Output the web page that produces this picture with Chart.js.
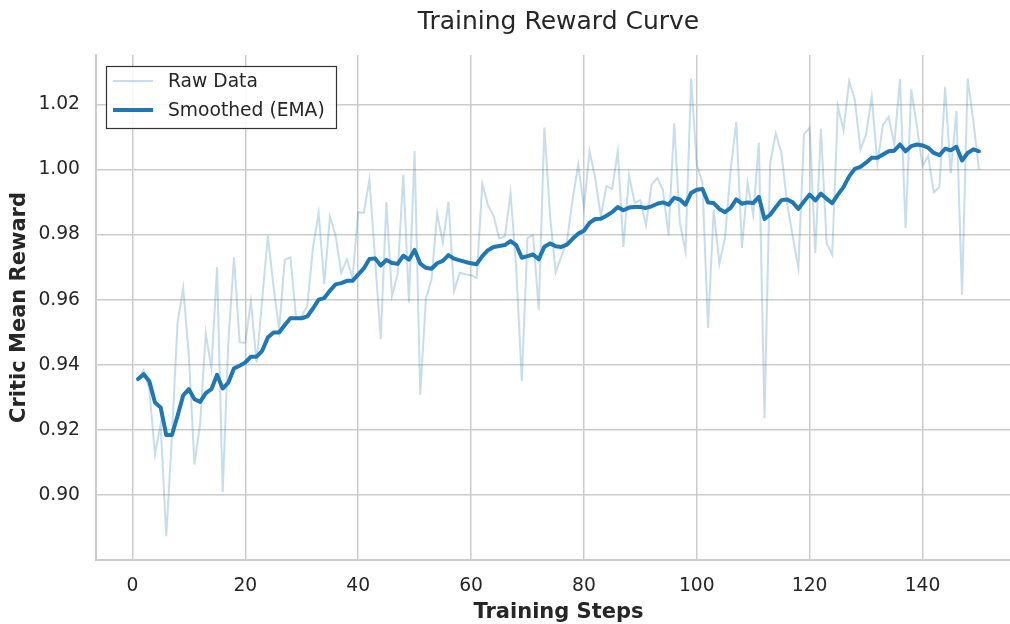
<!DOCTYPE html>
<html>
<head>
<meta charset="utf-8">
<script src="https://cdn.jsdelivr.net/npm/chart.js@4.4.1/dist/chart.umd.min.js"></script>
<style>
  html, body { margin: 0; padding: 0; background: #fff; overflow: hidden; }
  #chart { display: block; }
</style>
</head>
<body>
<canvas id="chart" width="1021" height="624"></canvas>
<script>
// training steps 1..150
const steps = Array.from({ length: 150 }, (_, i) => i + 1);

// raw critic reward
const rawReward = [
  0.9355, 0.9384, 0.9325, 0.9125, 0.9217, 0.8873, 0.918, 0.953, 0.9636, 0.9428,
  0.9094, 0.922, 0.9497, 0.9389, 0.970, 0.9009, 0.9469, 0.973, 0.9469, 0.9467,
  0.9595, 0.9407, 0.960, 0.9797, 0.964, 0.9508, 0.9723, 0.973, 0.9545, 0.955,
  0.9581, 0.9761, 0.9866, 0.9648, 0.9856, 0.9797, 0.9682, 0.9725, 0.9666, 0.9869,
  0.9867, 0.9969, 0.9725, 0.9479, 0.9899, 0.9612, 0.9679, 0.9984, 0.9592, 1.0057,
  0.9308, 0.9603, 0.9662, 0.9865, 0.9775, 0.9901, 0.9627, 0.9683, 0.9678, 0.9675,
  0.9666, 0.9957, 0.989, 0.9857, 0.9788, 0.9794, 0.9927, 0.970, 0.935, 0.979,
  0.9798, 0.9568, 1.0129, 0.986, 0.9684, 0.9733, 0.978, 0.9908, 1.0015, 0.9882,
  1.0056, 0.9974, 0.9856, 0.9949, 0.994, 1.0056, 0.9762, 0.9982, 0.9897, 0.9906,
  0.9828, 0.9954, 0.9974, 0.9938, 0.9798, 1.0142, 0.9836, 0.9749, 1.028, 1.0015,
  0.9959, 0.9513, 0.9877, 0.971, 0.979, 1.0, 1.0146, 0.9759, 0.9959, 0.9861,
  1.0082, 0.9236, 1.002, 1.0111, 1.0051, 0.9897, 0.9795, 0.9697, 1.0108, 1.0128,
  0.9743, 1.0125, 0.9774, 0.9738, 1.0195, 1.0121, 1.0272, 1.0215, 1.0061, 1.0108,
  1.0224, 1.002, 1.0138, 1.0162, 1.0077, 1.0279, 0.982, 1.0246, 1.0133, 1.0012,
  1.0041, 0.993, 0.9947, 1.0254, 0.9988, 1.018, 0.9615, 1.028, 1.0149, 1.0
];

// smoothed (EMA) curve, also
const emaReward = [
  0.9356, 0.9371, 0.9349, 0.9284, 0.9269, 0.9184, 0.9184, 0.9243, 0.9306, 0.9325,
  0.9294, 0.9286, 0.9313, 0.9325, 0.9369, 0.9327, 0.9345, 0.9389, 0.9397, 0.9407,
  0.9425, 0.9425, 0.9443, 0.9484, 0.9499, 0.9499, 0.9522, 0.9543, 0.9543, 0.9543,
  0.9549, 0.9573, 0.960, 0.9605, 0.9628, 0.9647, 0.9651, 0.9658, 0.9658, 0.9677,
  0.9696, 0.9725, 0.9727, 0.9705, 0.9722, 0.9713, 0.971, 0.9735, 0.9723, 0.9753,
  0.9711, 0.9698, 0.9695, 0.9712, 0.9719, 0.9737, 0.9726, 0.9721, 0.9716, 0.9712,
  0.9709, 0.9734, 0.9752, 0.9762, 0.9765, 0.9768, 0.978, 0.9768, 0.9729, 0.9734,
  0.9739, 0.9724, 0.9763, 0.9773, 0.9764, 0.9762, 0.9769, 0.9787, 0.9803, 0.9812,
  0.9836, 0.9848, 0.9849, 0.9858, 0.9869, 0.9885, 0.9875, 0.9883, 0.9885, 0.9885,
  0.9882, 0.9887, 0.9895, 0.9899, 0.9892, 0.9913, 0.9908, 0.9892, 0.9928, 0.9938,
  0.994, 0.9899, 0.9897, 0.9879, 0.9869, 0.9882, 0.9908, 0.9895, 0.9899, 0.9897,
  0.9916, 0.9848, 0.9861, 0.9884, 0.9906, 0.9908, 0.9899, 0.9879, 0.9902, 0.9923,
  0.9905, 0.9926, 0.991, 0.9897, 0.9923, 0.9946, 0.9979, 1.0002, 1.0008, 1.0021,
  1.0036, 1.0036, 1.0046, 1.0056, 1.0058, 1.0077, 1.0056, 1.0072, 1.0077, 1.0074,
  1.0067, 1.0051, 1.0044, 1.0064, 1.0059, 1.007, 1.0028, 1.0051, 1.0062, 1.0056
];

const xTicks = [0, 20, 40, 60, 80, 100, 120, 140];
const yTicks = [0.90, 0.92, 0.94, 0.96, 0.98, 1.00, 1.02];

const BLUE = "rgb(31, 119, 180)";
const RAW_BLUE = "rgba(31, 119, 180, 0.25)";
const TEXT = "#262626";
const GRID = "#cccccc";
const FONT = "'DejaVu Sans', sans-serif";

// legend box drawn inside the plot, like matplotlib's upper left legend
const insideLegend = {
  id: "insideLegend",
  afterDraw(chart) {
    const ctx = chart.ctx;
    const left = 106, top = 66, w = 230, h = 62;
    ctx.save();
    ctx.fillStyle = "rgba(255,255,255,0.85)";
    ctx.fillRect(left, top, w, h);
    ctx.strokeStyle = "#333333";
    ctx.lineWidth = 1.2;
    ctx.strokeRect(left + 0.5, top + 0.5, w, h);

    const rows = [
      { label: "Raw Data", color: RAW_BLUE, width: 2, y: top + 15 },
      { label: "Smoothed (EMA)", color: BLUE, width: 4, y: top + 44 }
    ];
    ctx.font = "18.7px " + FONT;
    ctx.textBaseline = "middle";
    rows.forEach(r => {
      ctx.strokeStyle = r.color;
      ctx.lineWidth = r.width;
      ctx.beginPath();
      ctx.moveTo(left + 7, r.y);
      ctx.lineTo(left + 47, r.y);
      ctx.stroke();
      ctx.fillStyle = TEXT;
      ctx.fillText(r.label, left + 62, r.y + 1.5);
    });
    ctx.restore();
  }
};

const ctx = document.getElementById("chart");
new Chart(ctx, {
  type: "line",
  data: {
    datasets: [
      {
        label: "Raw Data",
        data: steps.map((s, i) => ({ x: s, y: rawReward[i] })),
        borderColor: RAW_BLUE,
        borderWidth: 2,
        pointRadius: 0,
        tension: 0,
        order: 1
      },
      {
        label: "Smoothed (EMA)",
        data: steps.map((s, i) => ({ x: s, y: emaReward[i] })),
        borderColor: BLUE,
        borderWidth: 4,
        pointRadius: 0,
        tension: 0,
        borderJoinStyle: "round",
        borderCapStyle: "round",
        order: 0
      }
    ]
  },
  options: {
    responsive: false,
    animation: false,
    devicePixelRatio: 1,
    layout: { padding: 0 },
    plugins: {
      legend: { display: false },
      tooltip: { enabled: false },
      title: {
        display: true,
        text: "Training Reward Curve",
        color: TEXT,
        fullSize: false,
        font: { family: FONT, size: 25, weight: "normal", lineHeight: 1.2 },
        padding: { top: 7, bottom: 18 }
      }
    },
    scales: {
      x: {
        type: "linear",
        min: -6.45,
        max: 157.45,
        afterFit: s => { s.height = 64; },
        afterBuildTicks: s => { s.ticks = xTicks.map(v => ({ value: v })); },
        ticks: {
          color: TEXT,
          padding: 15,
          font: { family: FONT, size: 18.7 }
        },
        grid: { color: GRID, lineWidth: 1.5, drawTicks: false },
        border: { display: true, color: GRID, width: 2 },
        title: {
          display: true,
          text: "Training Steps",
          color: TEXT,
          font: { family: FONT, size: 21, weight: "bold", lineHeight: 1.0 },
          padding: { top: 0, bottom: 1 }
        }
      },
      y: {
        min: 0.88,
        max: 1.0352,
        afterFit: s => { s.width = 96; },
        afterBuildTicks: s => { s.ticks = yTicks.map(v => ({ value: v })); },
        ticks: {
          color: TEXT,
          padding: 16,
          font: { family: FONT, size: 18.7 },
          callback: v => v.toFixed(2)
        },
        grid: { color: GRID, lineWidth: 1.5, drawTicks: false },
        border: { display: true, color: GRID, width: 2 },
        title: {
          display: true,
          text: "Critic Mean Reward",
          color: TEXT,
          font: { family: FONT, size: 21, weight: "bold", lineHeight: 1.2 },
          padding: { top: 7, bottom: 0 }
        }
      }
    }
  },
  plugins: [insideLegend]
});
</script>
</body>
</html>
